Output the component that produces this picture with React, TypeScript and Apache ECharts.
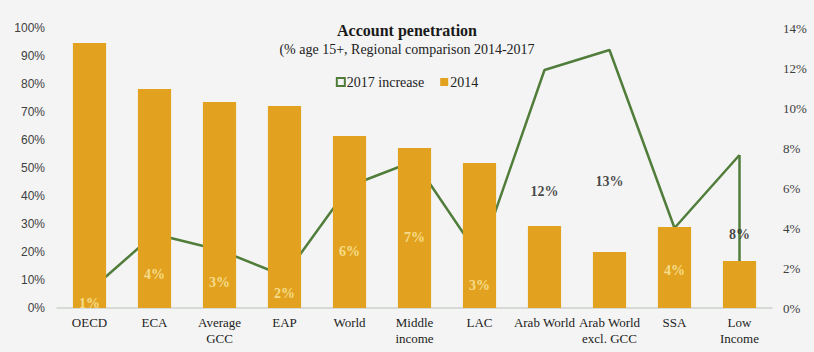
import React, { useEffect, useRef } from "react";
import * as echarts from "echarts";

const categories = [
  "OECD",
  "ECA",
  "Average\nGCC",
  "EAP",
  "World",
  "Middle\nincome",
  "LAC",
  "Arab World",
  "Arab World\nexcl. GCC",
  "SSA",
  "Low\nIncome",
];
const penetration2014 = [94.6, 78.2, 73.6, 72.1, 61.4, 57.1, 51.8, 29.3, 20, 28.9, 16.8];
const increase2017 = [0.85, 3.7, 2.9, 1.6, 6.1, 7.35, 2.55, 11.9, 12.9, 4.0, 7.65];
const increaseLabels = ["1%", "4%", "3%", "2%", "6%", "7%", "3%", "12%", "13%", "4%", "8%"];
const leftTicks = [0, 100, 10];
const rightTicks = [0, 14, 2];

// label styling (pixel offsets below the line point, and whether inside a bar)
const labelOffsets = [12, 40, 32, 17, 65, 76, 28, 121, 131, 42, 79];
const labelInside = [true, true, true, true, true, true, true, false, false, true, false];

const BAR = "#E2A21F";
const GREEN = "#517D3B";
const SERIF = "'Liberation Serif', 'DejaVu Serif', serif";
const SANS = "'Liberation Sans', Arial, sans-serif";

export default function App() {
  const ref = useRef<HTMLDivElement>(null);
  useEffect(() => {
    document.body.style.margin = "0";
    const chart = echarts.init(ref.current!, null, { renderer: "svg" });
    chart.setOption({
      animation: false,
      backgroundColor: "#f4f4f4",
      title: {
        text: "Account penetration",
        subtext: "(% age 15+, Regional comparison 2014-2017",
        left: "center",
        top: 17,
        itemGap: 4,
        textStyle: { fontFamily: SERIF, fontWeight: "bold", fontSize: 16, color: "#1a1a1a" },
        subtextStyle: { fontFamily: SERIF, fontSize: 14, color: "#222" },
      },
      legend: {
        top: 70,
        left: "center",
        itemWidth: 8,
        itemHeight: 8,
        itemGap: 16,
        textStyle: { fontFamily: SERIF, fontSize: 14, color: "#222", padding: [0, 0, 0, -3] },
        data: [
          {
            name: "2017 increase",
            icon: "rect",
            itemStyle: { color: "transparent", borderColor: GREEN, borderWidth: 2 },
          },
          { name: "2014", icon: "rect", itemStyle: { color: BAR } },
        ],
      },
      grid: { left: 57, right: 42, top: 28, bottom: 44 },
      xAxis: {
        type: "category",
        data: categories,
        axisLine: { lineStyle: { color: "#cdd2cb", width: 1.5 } },
        axisTick: { show: false },
        axisLabel: {
          interval: 0,
          fontFamily: SERIF,
          fontSize: 13,
          color: "#222",
          lineHeight: 16,
          margin: 6,
        },
      },
      yAxis: [
        {
          type: "value",
          min: leftTicks[0],
          max: leftTicks[1],
          interval: leftTicks[2],
          splitLine: { show: false },
          axisLine: { show: false },
          axisTick: { show: false },
          axisLabel: { formatter: "{value}%", fontFamily: SANS, fontSize: 12, color: "#404040", margin: 12 },
        },
        {
          type: "value",
          min: rightTicks[0],
          max: rightTicks[1],
          interval: rightTicks[2],
          splitLine: { show: false },
          axisLine: { show: false },
          axisTick: { show: false },
          axisLabel: { formatter: "{value}%", fontFamily: SERIF, fontSize: 13, color: "#404040", margin: 11 },
        },
      ],
      series: [
        {
          name: "2017 increase",
          type: "line",
          yAxisIndex: 1,
          data: increase2017,
          z: 1,
          symbol: "none",
          lineStyle: { color: GREEN, width: 2.5 },
          itemStyle: { color: GREEN },
          markLine: {
            silent: true,
            z: 1,
            symbol: ["none", "none"],
            label: { show: false },
            lineStyle: { color: GREEN, width: 2.5, type: "solid" },
            data: [
              [
                { coord: [categories[10], increase2017[10]] },
                { coord: [categories[10], 0] },
              ],
            ],
          },
        },
        {
          name: "2014",
          type: "bar",
          yAxisIndex: 0,
          data: penetration2014,
          z: 2,
          barWidth: "51%",
          itemStyle: { color: BAR },
        },
        {
          name: "labels",
          type: "scatter",
          yAxisIndex: 1,
          z: 5,
          silent: true,
          symbolSize: 1,
          itemStyle: { color: "transparent" },
          data: increase2017.map((v, i) => ({
            value: v,
            label: {
              show: true,
              position: "inside",
              offset: [0, labelOffsets[i]],
              formatter: increaseLabels[i],
              fontFamily: SERIF,
              fontWeight: "bold",
              fontSize: 14,
              color: labelInside[i] ? "#FBEBA8" : "#1a1a1a",
            },
          })),
        },
      ],
    });
    return () => chart.dispose();
  }, []);
  return <div ref={ref} style={{ width: 814, height: 352 }} />;
}
